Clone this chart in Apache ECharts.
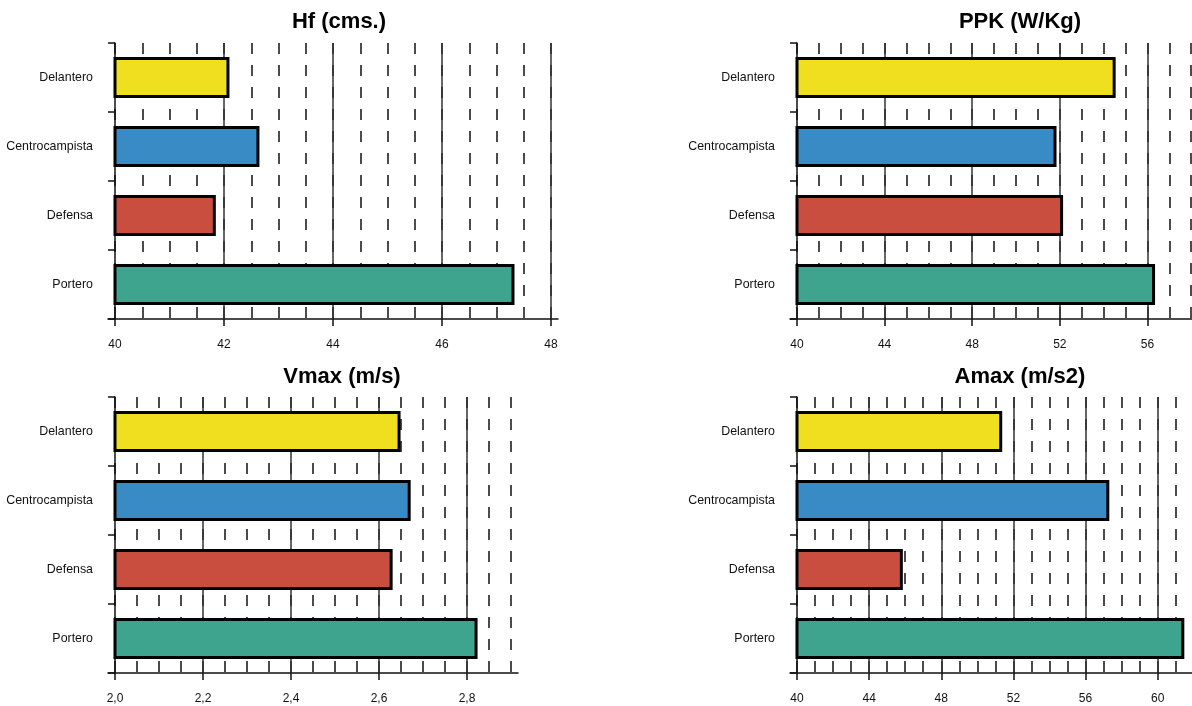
<!DOCTYPE html>
<html><head><meta charset="utf-8">
<script src="https://cdn.jsdelivr.net/npm/echarts@6/dist/echarts.min.js"></script>
<style>html,body{margin:0;padding:0;background:#fff}#c{width:1192px;height:706px}</style>
</head><body><div id="c"></div>
<script>
const categories = ['Delantero', 'Centrocampista', 'Defensa', 'Portero'];
const hfValues = [42.1, 42.65, 41.85, 47.33];
const ppkValues = [54.55, 51.85, 52.15, 56.35];
const vmaxValues = [2.649, 2.672, 2.631, 2.824];
const amaxValues = [51.38, 57.32, 45.87, 61.48];
const hfTicks = [40, 42, 44, 46, 48];
const ppkTicks = [40, 44, 48, 52, 56];
const vmaxTicks = [2.0, 2.2, 2.4, 2.6, 2.8];
const amaxTicks = [40, 44, 48, 52, 56, 60];
const titles = ['Hf (cms.)', 'PPK (W/Kg)', 'Vmax (m/s)', 'Amax (m/s2)'];
const barColors = ['#F0DF1E', '#398BC6', '#C94E40', '#3EA48D'];

const FONT = '"Liberation Sans", Arial, sans-serif';
const panels = [
  {title: titles[0], values: hfValues, ticks: hfTicks, min: 40, max: 48, minor: 0.5, major: 2, comma: false,
   left: 115, width: 436, top: 43, titleX: 334, titleY: 6},
  {title: titles[1], values: ppkValues, ticks: ppkTicks, min: 40, max: 58, minor: 1, major: 4, comma: false,
   left: 797, width: 394.2, top: 43, titleX: 1015, titleY: 6},
  {title: titles[2], values: vmaxValues, ticks: vmaxTicks, min: 2.0, max: 2.9, minor: 0.05, major: 0.2, comma: true,
   left: 115, width: 396, top: 397, titleX: 337, titleY: 361},
  {title: titles[3], values: amaxValues, ticks: amaxTicks, min: 40, max: 62, minor: 1, major: 4, comma: false,
   left: 797, width: 396.7, top: 397, titleX: 1015, titleY: 361}
];
const H = 276;
const grid = [], xAxis = [], yAxis = [], series = [], title = [];
panels.forEach((p, i) => {
  const g = grid.length;
  grid.push({left: p.left, top: p.top, width: p.width, height: H, outerBoundsMode: 'none', containLabel: false});
  grid.push({left: p.left - 7, top: p.top, width: p.width + 14, height: H, outerBoundsMode: 'none', containLabel: false});
  const xMinor = xAxis.length;
  xAxis.push({
    type: 'value', gridIndex: g, position: 'bottom', min: p.min, max: p.max, interval: p.minor,
    axisLine: {show: false}, axisTick: {show: false}, axisLabel: {show: false},
    splitLine: {show: true, lineStyle: {color: '#111', width: 1.5, type: [11, 11]}}
  });
  xAxis.push({
    type: 'value', gridIndex: g, position: 'bottom', min: p.min, max: p.max, interval: p.major,
    axisLine: {show: false},
    axisTick: {show: true, customValues: p.ticks, length: 7, inside: false, lineStyle: {color: '#111', width: 1.5}},
    axisLabel: {show: true, customValues: p.ticks, margin: 20, fontSize: 12, color: '#111', fontFamily: FONT,
      formatter: v => p.comma ? Number(v).toFixed(1).replace('.', ',') : String(v)},
    splitLine: {show: true, showMinLine: false, lineStyle: {color: '#333', width: 1.5, type: 'solid'}}
  });
  xAxis.push({
    type: 'value', gridIndex: g + 1, position: 'bottom', min: 0, max: 1,
    axisLine: {show: true, lineStyle: {color: '#111', width: 1.5}},
    axisTick: {show: false}, axisLabel: {show: false}, splitLine: {show: false}
  });
  const yMain = yAxis.length;
  yAxis.push({
    type: 'category', gridIndex: g, data: categories, inverse: true,
    axisLine: {show: true, lineStyle: {color: '#111', width: 1.5}},
    axisTick: {show: true, length: 7, lineStyle: {color: '#111', width: 1.5}},
    axisLabel: {margin: 22, fontSize: 12.4, color: '#111', fontFamily: FONT},
    splitLine: {show: false}
  });
  yAxis.push({type: 'value', gridIndex: g + 1, show: false, min: 0, max: 1});
  series.push({
    type: 'bar', xAxisIndex: xMinor, yAxisIndex: yMain, barWidth: 41,
    data: p.values.map((v, j) => ({value: v, itemStyle: {color: barColors[j]}})),
    itemStyle: {borderColor: '#000', borderWidth: 3},
    emphasis: {disabled: true}
  });
  title.push({text: p.title, left: p.titleX, top: p.titleY, textAlign: 'center',
    textStyle: {fontSize: 22, fontWeight: 'bold', color: '#000', fontFamily: FONT}});
});
const chart = echarts.init(document.getElementById('c'), null, {renderer: 'canvas'});
chart.setOption({backgroundColor: '#fff', animation: false, title, grid, xAxis, yAxis, series, tooltip: {show: false}});
</script></body></html>
